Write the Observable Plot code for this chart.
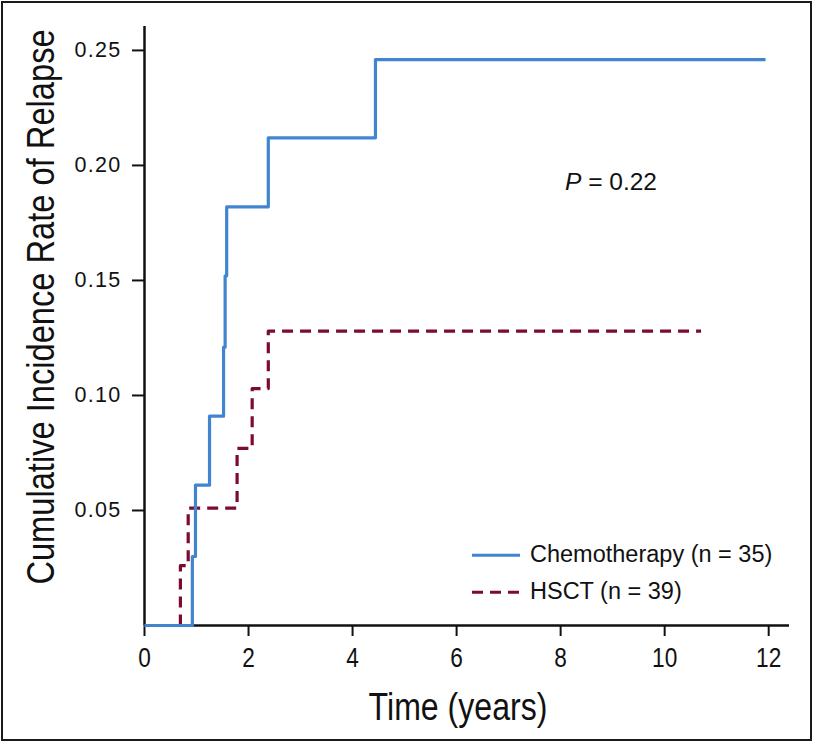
<!DOCTYPE html>
<html>
<head>
<meta charset="utf-8">
<script src="https://cdn.jsdelivr.net/npm/d3@7"></script>
<script src="https://cdn.jsdelivr.net/npm/@observablehq/plot@0.6"></script>
<style>
  html, body { margin: 0; padding: 0; background: #fff; }
  #wrap { position: relative; width: 813px; height: 742px; overflow: hidden; }
  #wrap > svg { display: block; outline: 2px solid #1a1a1a; outline-offset: -3px; }
  .ov { position: absolute; white-space: nowrap; color: #111; line-height: 1; }
  .sans { font-family: "Liberation Sans", Arial, Helvetica, sans-serif; }
  .legrow { position: absolute; display: flex; align-items: center; line-height: 1; }
</style>
</head>
<body>
<div id="wrap"></div>
<script>
// ---- data ----
const chemoTime = [0, 0.92, 0.98, 1.25, 1.52, 1.55, 1.58, 2.38, 4.44, 11.94];
const chemoCIR  = [0, 0.030, 0.061, 0.091, 0.121, 0.152, 0.182, 0.212, 0.246, 0.246];
const hsctTime  = [0, 0.69, 0.84, 1.78, 2.07, 2.38, 10.70];
const hsctCIR   = [0, 0.026, 0.051, 0.077, 0.103, 0.128, 0.128];
const seriesNames = ["Chemotherapy (n = 35)", "HSCT (n = 39)"];
const xTicks = [0, 2, 4, 6, 8, 10, 12];
const yTicks = [0.05, 0.10, 0.15, 0.20, 0.25];
const xLabel = "Time (years)";
const yLabel = "Cumulative Incidence Rate of Relapse";
const pText = "0.22";

const BLUE = "#4185d0";
const RED = "#7c0b30";

const chemo = chemoTime.map((t, i) => ({t, v: chemoCIR[i]}));
const hsct = hsctTime.map((t, i) => ({t, v: hsctCIR[i]}));

const chart = Plot.plot({
  width: 813,
  height: 742,
  marginLeft: 144,
  marginRight: 24,
  marginTop: 26,
  marginBottom: 117,
  style: {background: "#fff", color: "#111", overflow: "visible"},
  x: {domain: [0, 12.4]},
  y: {domain: [0, 0.2604]},
  marks: [
    Plot.axisX({
      ticks: xTicks, tickSize: 11, tickPadding: 11, strokeWidth: 2,
      tickFormat: d => String(d), label: null,
      fontSize: 27, fontFamily: "Liberation Sans, Arial, sans-serif",
      fill: "#111"
    }),
    Plot.axisY({
      ticks: yTicks, tickSize: 12, tickPadding: 11, strokeWidth: 2,
      tickFormat: d3.format(".2f"), label: null,
      fontSize: 21.5, fontFamily: "Liberation Sans, Arial, sans-serif",
      fill: "#111"
    }),
    Plot.ruleY([0], {stroke: "#111", strokeWidth: 2.5}),
    Plot.ruleX([0], {stroke: "#111", strokeWidth: 2.5}),
    Plot.line(hsct, {x: "t", y: "v", curve: "step-after", stroke: RED, strokeWidth: 3.2, strokeDasharray: "11,7", strokeLinecap: "butt"}),
    Plot.line(chemo, {x: "t", y: "v", curve: "step-after", stroke: BLUE, strokeWidth: 3.2, strokeLinecap: "butt"})
  ]
});

const wrap = document.getElementById("wrap");
wrap.appendChild(chart);
// y tick labels: slightly spaced
d3.select(chart).selectAll('g[aria-label="y-axis tick label"] text').style("letter-spacing", "1.3px");
// x tick labels: condensed glyphs
d3.select(chart).selectAll('g[aria-label="x-axis tick label"] text').each(function() {
  const w = this.getComputedTextLength();
  this.setAttribute("textLength", (w * 0.84).toFixed(1));
  this.setAttribute("lengthAdjust", "spacingAndGlyphs");
});

function addDiv(cls, css, html) {
  const d = document.createElement("div");
  d.className = cls;
  Object.assign(d.style, css);
  d.innerHTML = html;
  wrap.appendChild(d);
  return d;
}

// axis titles (condensed by horizontal scaling to the reference's length)
function condensedTitle(text, cx, cy, size, targetLen, rotate) {
  const d = addDiv("ov sans", {left: cx + "px", top: cy + "px", fontSize: size + "px"}, text);
  const w = d.offsetWidth;
  const s = targetLen / w;
  d.style.transform = `translate(-50%,-50%) ${rotate ? "rotate(-90deg) " : ""}scaleX(${s.toFixed(3)})`;
}
condensedTitle(xLabel, 458, 707, 38, 179, false);
condensedTitle(yLabel, 40, 307, 39, 555, true);

// P value
addDiv("ov sans", {left: "565px", top: "182px", fontSize: "24.5px", transform: "translateY(-50%)"}, "<i>P</i> = " + pText);

// legend
const legendItems = [
  {name: seriesNames[0], color: BLUE, dash: null, top: 555},
  {name: seriesNames[1], color: RED, dash: "11,7", top: 592}
];
legendItems.forEach(it => {
  addDiv("legrow sans", {left: "472px", top: it.top + "px", transform: "translateY(-50%)", fontSize: "23.5px", color: "#111"},
    `<svg width="48" height="10" style="margin-right:10px;display:block"><line x1="0" x2="48" y1="5" y2="5" stroke="${it.color}" stroke-width="3.2" ${it.dash ? `stroke-dasharray="${it.dash}"` : ""}/></svg><span>${it.name}</span>`);
});
</script>
</body>
</html>
